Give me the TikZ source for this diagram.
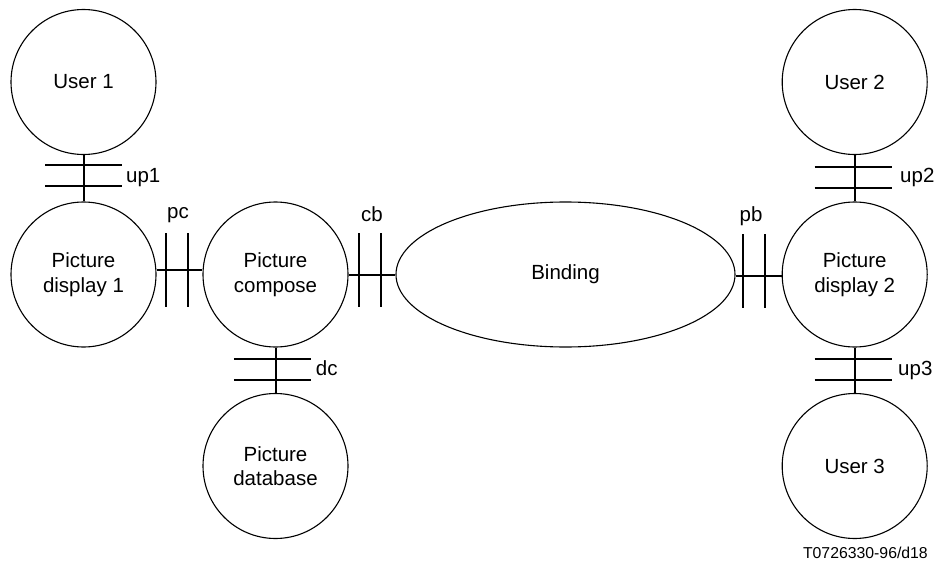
\documentclass[tikz,border=0pt]{standalone}
\usepackage{fontspec}
\setmainfont{Liberation Sans}
\usetikzlibrary{calc,shapes.geometric}
\begin{document}
\begin{tikzpicture}[x=1pt,y=-1pt,
  ent/.style={circle,draw,line width=1.1pt,minimum size=145pt,inner sep=0pt,align=center,font=\fontsize{20.5}{24.5}\selectfont},
  conn/.style={line width=2pt},
  lbl/.style={font=\fontsize{20.5}{24.5}\selectfont,inner sep=0pt},
  pics/hbars/.style={code={\draw[conn] (-38.5,-10.5) -- (38.5,-10.5) (-38.5,10.5) -- (38.5,10.5);}},
  pics/vbars/.style={code={\draw[conn] (-11,-37) -- (-11,37) (11,-37) -- (11,37);}}]
\useasboundingbox (0,0) rectangle (935,562);
\node[ent] (u1) at (83.5,82) {User 1};
\node[ent] (pd1) at (83.5,274.5) {Picture\\display 1};
\node[ent] (pc) at (275.5,274.5) {Picture\\compose};
\node[ent] (db) at (275.5,466) {Picture\\database};
\node[ent,ellipse,minimum width=339pt,minimum height=145pt] (bind) at (565.5,274.5) {Binding};
\node[ent] (pd2) at (854.7,274.5) {Picture\\display 2};
\node[ent] (u2) at (854.7,82) {User 2};
\node[ent] (u3) at (854.7,466) {User 3};
% connectors
\draw[conn] (u1) -- (pd1);
\draw[conn] ([yshift=5pt]pd1.east) -- ([yshift=5pt]pc.west);
\draw[conn] (pc) -- (bind);
\draw[conn] ([yshift=-1pt]bind.east) -- ([yshift=-1pt]pd2.west);
\draw[conn] (pd2) -- (u2);
\draw[conn] (pd2) -- (u3);
\draw[conn] (pc) -- (db);
% bars and labels
\pic at (83.5,175) {hbars};
\node[lbl,anchor=base west] (lup1) at (126,182) {up1};
\pic at (177,270) {vbars};
\node[lbl,anchor=base] (lpc) at (178,218) {pc};
\pic at (370,270) {vbars};
\node[lbl,anchor=base] (lcb) at (372,221) {cb};
\pic at (754,271) {vbars};
\node[lbl,anchor=base] (lpb) at (751,221) {pb};
\pic at (853,177) {hbars};
\node[lbl,anchor=base west] (lup2) at (900,182) {up2};
\pic at (853,369) {hbars};
\node[lbl,anchor=base west] (lup3) at (898,375) {up3};
\pic at (272.4,369) {hbars};
\node[lbl,anchor=base west] (ldc) at (315.7,375) {dc};
\node[inner sep=0pt,anchor=base east,font=\fontsize{15.8}{18}\selectfont] (foot) at (928,558) {T0726330-96/d18};
\end{tikzpicture}
\end{document}
